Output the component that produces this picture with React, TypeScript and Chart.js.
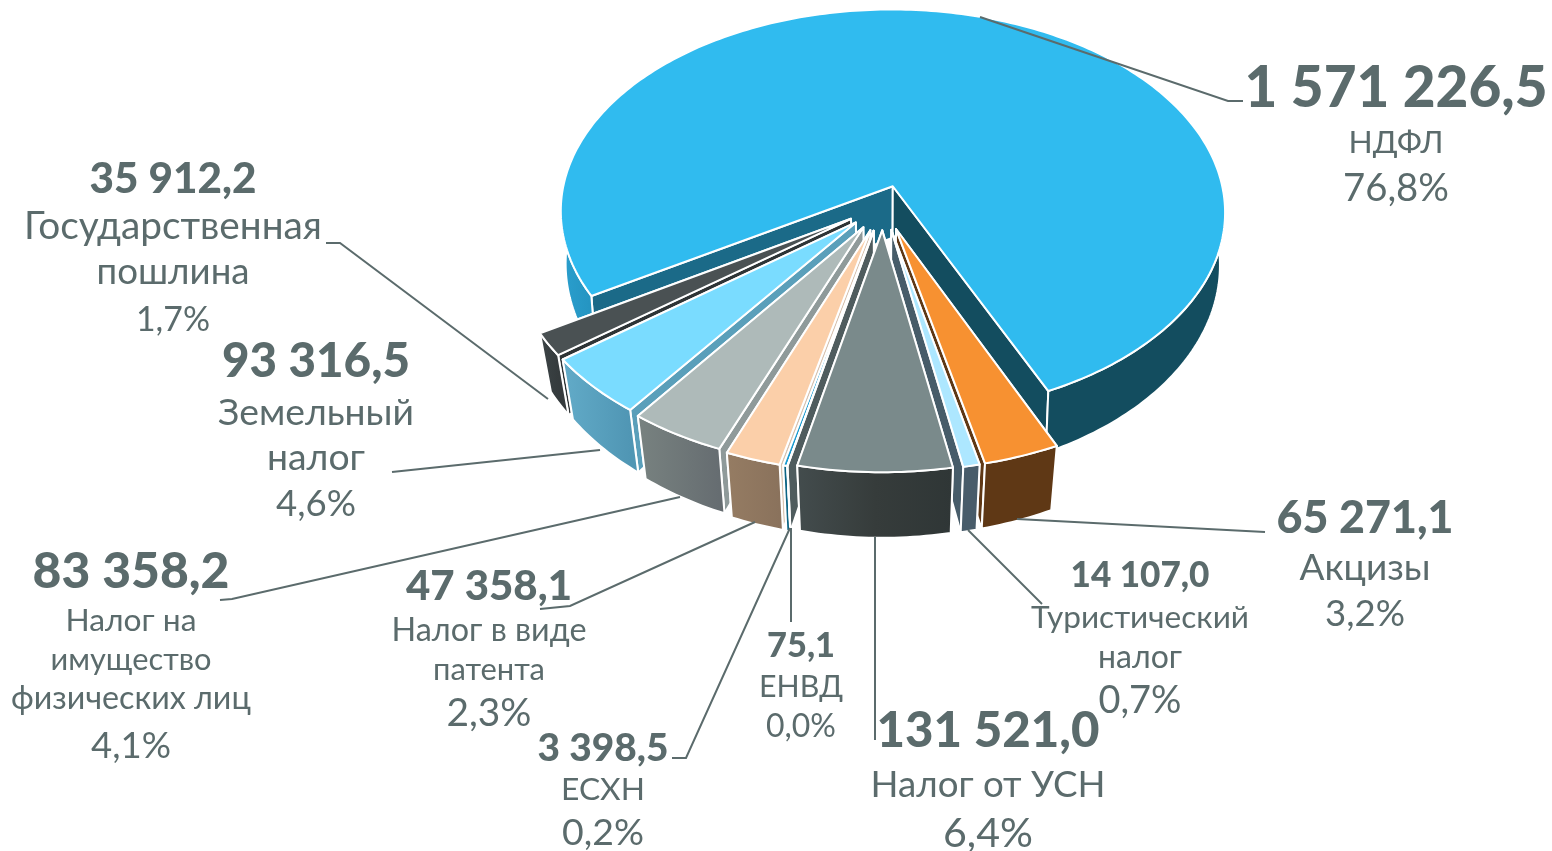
import React, { useEffect, useRef } from "react";
import { Chart, registerables } from "chart.js";

Chart.register(...registerables);

const categories = ["НДФЛ", "Акцизы", "Туристический налог", "Налог от УСН", "ЕНВД", "ЕСХН", "Налог в виде патента", "Налог на имущество физических лиц", "Земельный налог", "Государственная пошлина"];
const values = [1571226.5, 65271.1, 14107.0, 131521.0, 75.1, 3398.5, 47358.1, 83358.2, 93316.5, 35912.2];
const valueLabels = ["1 571 226,5", "65 271,1", "14 107,0", "131 521,0", "75,1", "3 398,5", "47 358,1", "83 358,2", "93 316,5", "35 912,2"];
const nameLines = [["НДФЛ"], ["Акцизы"], ["Туристический", "налог"], ["Налог от УСН"], ["ЕНВД"], ["ЕСХН"], ["Налог в виде", "патента"], ["Налог на", "имущество", "физических лиц"], ["Земельный", "налог"], ["Государственная", "пошлина"]];
const percentLabels = ["76,8%", "3,2%", "0,7%", "6,4%", "0,0%", "0,2%", "2,3%", "4,1%", "4,6%", "1,7%"];

const topColors = ["#30bbef", "#f79131", "#ade7ff", "#7a8a8b", "#4f5c5e", "#1a9ad0", "#fbcfa9", "#aebab9", "#7adcff", "#4a5153"];
const wallStops = [
  ["#2a9fce", "#2391bd", "#134d5f", "#134d5f"], ["#5f3815", "#5f3815"], ["#485c6a", "#485c6a"], ["#434c4d", "#363c3b", "#2f3636"],
  ["#4f5c5e", "#4f5c5e"], ["#0c6484", "#0c6484"], ["#957c63", "#8a725c"], ["#788280", "#666d71"], ["#62abc8", "#5096b4"], ["#3c4446", "#353b3d"],
];
const startFaces = ["#1b6a88", "#5f3815", "#475c69", "#4f5c5e", "#4f5c5e", "#4f5c5e", "#d8c4b2", "#8f9a9a", "#5a9fba", "#2e3436"];
const endFaces = ["#134d5f", "#5f3815", "#475c69", "#4f5c5e", "#4f5c5e", "#1b6a88", "#d8c4b2", "#8f9a9a", "#5a9fba", "#2e3436"];
const explode = [10, 12, 12, 12, 12.5, 12.5, 12.5, 12, 11.5, 11.5];
const drawOrder = [0, 9, 8, 7, 6, 5, 4, 1, 2, 3];

const view = { cx: 883, cy: 205.5, rx: 333.5, ry: 204, k: 0.128 };
const TEXT = "#5b6b6c";
const FONT = "Lato, 'Open Sans', sans-serif";

// label layout: centre x; then [baseline, width] for the value, for each name line, and for the percentage
const labelLayout = [
  { x: 1396, value: [107, 303], names: [[153, 95]], pct: [201, 106] },
  { x: 1365, value: [533, 177], names: [[580, 131]], pct: [626, 80] },
  { x: 1140, value: [587, 139], names: [[628, 218], [668, 84]], pct: [713, 83] },
  { x: 988, value: [747, 223], names: [[797, 235]], pct: [847, 90] },
  { x: 801, value: [657, 68], names: [[697, 84]], pct: [737, 70] },
  { x: 603, value: [761, 131], names: [[800, 84]], pct: [845, 82] },
  { x: 489, value: [600, 166], names: [[641, 195], [680, 112]], pct: [726, 85] },
  { x: 131, value: [588, 197], names: [[631, 131], [670, 161], [709, 240]], pct: [758, 80] },
  { x: 316, value: [377, 188], names: [[425, 196], [470, 98]], pct: [516, 80] },
  { x: 173, value: [193, 167], names: [[239, 298], [284, 153]], pct: [331, 74] },
];
const leaders = [
  [[980, 17], [1228, 101], [1243, 101]],
  [[1017, 519], [1265, 532]],
  [[968, 530], [1042, 604]],
  [[875, 537], [875, 740]],
  [[791, 528], [791, 622]],
  [[790, 528], [686, 758], [672, 758]],
  [[755, 522], [570, 606], [540, 609]],
  [[680, 497], [232, 599], [220, 600]],
  [[600, 450], [392, 472]],
  [[548, 399], [340, 243], [326, 243]],
];

type Pt = { x: number; y: number };
const project = (u: number, v: number): Pt => {
  const s = 1 / (1 - view.k * v);
  return { x: view.cx + view.rx * u * s, y: view.cy + view.ry * v * s };
};
const sink = (p: Pt, q: number): Pt => ({ x: view.cx + (p.x - view.cx) * q, y: p.y + 42 + 0.05 * p.y });

const poly = (ctx: CanvasRenderingContext2D, pts: Pt[], fill: string | CanvasGradient) => {
  ctx.beginPath();
  pts.forEach((p, i) => (i ? ctx.lineTo(p.x, p.y) : ctx.moveTo(p.x, p.y)));
  ctx.closePath();
  ctx.fillStyle = fill;
  ctx.fill();
  ctx.strokeStyle = "#ffffff";
  ctx.lineWidth = 2;
  ctx.lineJoin = "round";
  ctx.stroke();
};

const tiltedPie = {
  id: "tiltedPie",
  beforeDatasetsDraw(chart: any) {
    const ctx: CanvasRenderingContext2D = chart.ctx;
    const arcs = chart.getDatasetMeta(0).data;
    ctx.save();
    drawOrder.forEach((i) => {
      const arc = arcs[i];
      const a0 = arc.startAngle + Math.PI / 2;
      const a1 = arc.endAngle + Math.PI / 2;
      const mid = (a0 + a1) / 2;
      const e = arc.options.offset / 100;
      const ou = e * Math.sin(mid);
      const ov = -e * Math.cos(mid);
      const q = i === 0 ? 0.985 : 0.968;
      const rim: Pt[] = [];
      const n = Math.max(1, Math.ceil(((a1 - a0) * 180) / Math.PI));
      for (let j = 0; j <= n; j++) {
        const a = a0 + ((a1 - a0) * j) / n;
        rim.push(project(ou + Math.sin(a), ov - Math.cos(a)));
      }
      const apex = project(ou, ov);
      const apexB = sink(apex, q);
      const rimB = rim.map((p) => sink(p, q));
      const startFace = () => poly(ctx, [apex, rim[0], rimB[0], apexB], startFaces[i]);
      const endFace = () => poly(ctx, [apex, rim[rim.length - 1], rimB[rimB.length - 1], apexB], endFaces[i]);
      // the face turned towards the viewer goes last
      if (apex.x > rim[0].x && i !== 0) {
        endFace();
        startFace();
      } else {
        startFace();
        endFace();
      }
      const xs = rim.map((p) => p.x);
      const g = ctx.createLinearGradient(Math.min(...xs), 0, Math.max(...xs), 0);
      const stops = wallStops[i];
      if (i === 0) {
        g.addColorStop(0, stops[0]);
        g.addColorStop(0.06, stops[1]);
        g.addColorStop(0.07, stops[2]);
        g.addColorStop(1, stops[3]);
      } else {
        stops.forEach((c, j) => g.addColorStop(j / (stops.length - 1), c));
      }
      poly(ctx, [...rim, ...rimB.slice().reverse()], g);
      poly(ctx, [apex, ...rim], arc.options.backgroundColor);
    });
    ctx.restore();
    return false;
  },
  afterDraw(chart: any) {
    const ctx: CanvasRenderingContext2D = chart.ctx;
    ctx.save();
    ctx.strokeStyle = TEXT;
    ctx.lineWidth = 2;
    ctx.lineJoin = "miter";
    leaders.forEach((line) => {
      ctx.beginPath();
      line.forEach(([x, y], i) => (i ? ctx.lineTo(x, y) : ctx.moveTo(x, y)));
      ctx.stroke();
    });
    ctx.fillStyle = TEXT;
    ctx.textAlign = "center";
    ctx.textBaseline = "alphabetic";
    const fitted = (text: string, x: number, y: number, width: number, weight: string) => {
      ctx.font = `${weight} 100px ${FONT}`;
      const size = (100 * width) / ctx.measureText(text).width;
      ctx.font = `${weight} ${size}px ${FONT}`;
      ctx.fillText(text, x, y);
    };
    labelLayout.forEach((l, i) => {
      fitted(valueLabels[i], l.x, l.value[0], l.value[1], "900");
      l.names.forEach(([y, w], j) => fitted(nameLines[i][j], l.x, y, w, "400"));
      fitted(percentLabels[i], l.x, l.pct[0], l.pct[1], "400");
    });
    ctx.restore();
  },
};

export default function App() {
  const ref = useRef<HTMLCanvasElement>(null);
  useEffect(() => {
    document.body.style.margin = "0";
    document.body.style.background = "#ffffff";
    const chart = new Chart(ref.current!, {
      type: "pie",
      data: {
        labels: categories,
        datasets: [{ data: values, backgroundColor: topColors, offset: explode, borderColor: "#ffffff", borderWidth: 2 }],
      },
      options: {
        animation: false,
        responsive: false,
        rotation: 239,
        events: [],
        plugins: { legend: { display: false }, tooltip: { enabled: false } },
      },
      plugins: [tiltedPie],
    } as any);
    return () => chart.destroy();
  }, []);
  return <canvas ref={ref} width={1552} height={851} style={{ display: "block", width: 1552, height: 851 }} />;
}
